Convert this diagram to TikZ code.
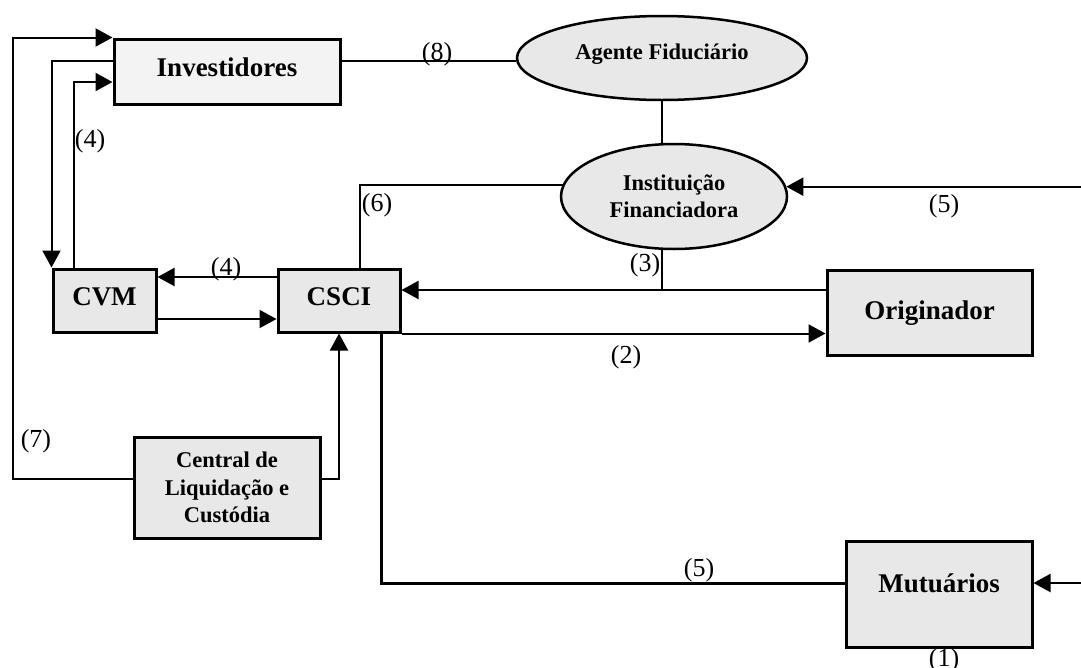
\documentclass[tikz,border=0pt]{standalone}
\usepackage{fontspec}
\setmainfont{Liberation Serif}
\usetikzlibrary{arrows.meta,shapes.geometric}
\definecolor{boxgray}{HTML}{E8E8E8}
\definecolor{lightgray}{HTML}{F3F3F3}
\begin{document}
\begin{tikzpicture}[x=1pt,y=-1pt,
  box/.style={draw, line width=3pt, fill=boxgray, inner sep=0pt, align=center,
    font=\bfseries\fontsize{27}{27}\selectfont, text height=10pt, text depth=0pt},
  mbox/.style={draw, line width=3pt, fill=boxgray, inner sep=0pt, align=center,
    font=\bfseries\fontsize{22.5}{27.5}\selectfont},
  oval/.style={ellipse, draw, line width=2.5pt, fill=boxgray, inner sep=0pt, align=center,
    font=\bfseries\fontsize{22.5}{27}\selectfont},
  conn/.style={line width=2pt},
  arr/.style={line width=2pt, -{Triangle[length=17pt,width=18pt]}},
  lbl/.style={font=\fontsize{26}{26}\selectfont, inner sep=0pt}]
\clip (0,0) rectangle (1081,667);
\fill[white] (0,0) rectangle (1081,667);

% nodes
\node[box, fill=lightgray, minimum width=226pt, minimum height=65pt] (Inv) at (227,71.5) {Investidores};
\node[oval, minimum width=290pt, minimum height=84pt, text height=3pt, text depth=0pt] (AF) at (662,58) {Agente Fiduciário};
\node[oval, minimum width=226pt, minimum height=105pt] (IF) at (674,196.5) {Instituição\\Financiadora};
\node[box, minimum width=103pt, minimum height=63pt] (CVM) at (104.5,300.5) {CVM};
\node[box, minimum width=122pt, minimum height=63pt] (CSCI) at (339,300.5) {CSCI};
\node[box, minimum width=205pt, minimum height=85pt, text height=13pt] (Orig) at (929.5,312.5) {Originador};
\node[mbox, minimum width=186pt, minimum height=101pt] (CLC) at (227,487.5) {Central de\\Liquidação e\\Custódia};
\node[box, minimum width=186pt, minimum height=106pt, text height=0pt, text depth=4pt] (Mut) at (939,594) {Mutuários};

% bend and free-end coordinates
\coordinate (k7) at (13,479);
\coordinate (y61) at (0,61);
\coordinate (y82) at (0,82);
\coordinate (x53) at (53,0);
\coordinate (x74) at (74,0);
\coordinate (x360) at (360,0);
\coordinate (x381) at (381,0);
\coordinate (y277) at (0,277);
\coordinate (y290) at (0,290);
\coordinate (y319) at (0,319);
\coordinate (y479) at (0,479);
\coordinate (y583) at (0,583);
\coordinate (redge) at (1081,0);

% connectors
\draw[arr] (CLC.west |- y479) -- (k7) |- (Inv.north west);
\draw[arr] (Inv.west |- y61) -| (CVM.north west);
\draw[arr] (CVM.north -| x74) |- (Inv.west |- y82);
\draw[conn] (Inv.east |- y61) -- (AF.west |- y61);
\draw[conn] (AF.south) -- (AF.south |- IF.north);
\draw[conn] (CSCI.north -| x360) |- (IF.174.6);
\draw[arr] (IF.5.4 -| redge) -- (IF.5.4);
\draw[conn] (AF.south |- IF.south) -- (AF.south |- y290);
\draw[arr] (Orig.west |- y290) -- (CSCI.east |- y290);
\draw[arr] (CSCI.west |- y277) -- (CVM.east |- y277);
\draw[arr] (CVM.east |- y319) -- (CSCI.west |- y319);
\draw[arr] (CSCI.south east) -- (Orig.west |- CSCI.south east);
\draw[arr] (CLC.east |- y479) -| (CSCI.south);
\draw[line width=3pt] (Mut.west |- y583) -| (CSCI.south -| x381);
\draw[arr] (Mut.east |- y583 -| redge) -- (Mut.east |- y583);

% labels
\node[lbl] (l8) at (437,54) {(8)};
\node[lbl] (l4a) at (90,141) {(4)};
\node[lbl] (l6) at (377,205) {(6)};
\node[lbl] (l5a) at (944,206) {(5)};
\node[lbl] (l3) at (645,265) {(3)};
\node[lbl] (l4b) at (226,269) {(4)};
\node[lbl] (l2) at (626,357) {(2)};
\node[lbl] (l7) at (36,441) {(7)};
\node[lbl] (l5b) at (699,570) {(5)};
\node[lbl] (l1) at (944,660) {(1)};
\end{tikzpicture}
\end{document}
